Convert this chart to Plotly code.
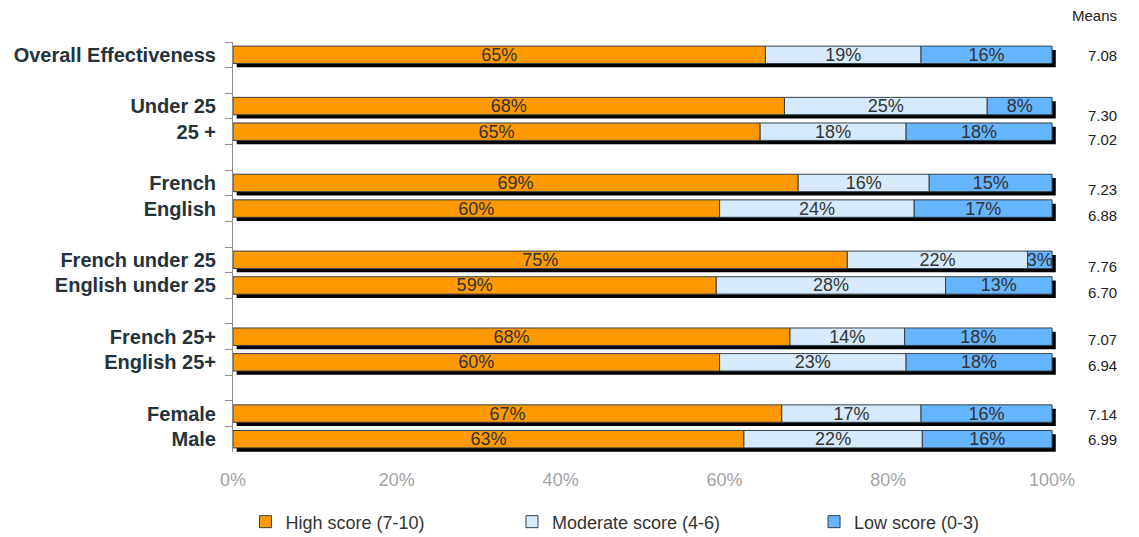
import plotly.graph_objects as go

# Row labels (top to bottom) and the slot layout with blank spacer slots between groups
ROWS = ["Overall Effectiveness", "Under 25", "25 +", "French", "English",
        "French under 25", "English under 25", "French 25+", "English 25+",
        "Female", "Male"]
SLOTS = ["Overall Effectiveness", " ",
         "Under 25", "25 +", "  ",
         "French", "English", "   ",
         "French under 25", "English under 25", "    ",
         "French 25+", "English 25+", "     ",
         "Female", "Male"]

HIGH = [65, 68, 65, 69, 60, 75, 59, 68, 60, 67, 63]
MODERATE = [19, 25, 18, 16, 24, 22, 28, 14, 23, 17, 22]
LOW = [16, 8, 18, 15, 17, 3, 13, 18, 18, 16, 16]
MEANS = ["7.08", "7.30", "7.02", "7.23", "6.88", "7.76", "6.70", "7.07", "6.94", "7.14", "6.99"]

SERIES_NAMES = ["High score (7-10)", "Moderate score (4-6)", "Low score (0-3)"]
X_TICKS = [0, 20, 40, 60, 80, 100]

# styling
COLORS = ["#FF9900", "#D6EAFC", "#66B5FF"]
OUTLINE = "#34404a"
FONT = "Liberation Sans, Arial, sans-serif"
BAR_W = 0.68
SHADOW_DX = 0.45     # horizontal drop-shadow offset (x units)
SHADOW_DY = 0.15     # vertical drop-shadow offset (category units)
MEAN_NUDGE_PX = [1, 9, 8, 7, 7, 7, 7, 3, 3, 1, 0]
MEANS_X = 1.075
LEGEND_X = [0.2155, 0.4495, 0.7147]   # container fractions

series = [HIGH, MODERATE, LOW]
totals = [sum(v) for v in zip(*series)]
pct = [[v / t * 100 for v, t in zip(s, totals)] for s in series]

fig = go.Figure()

# drop shadow under each stacked bar
fig.add_trace(go.Bar(
    y=ROWS, x=[100] * len(ROWS), base=[SHADOW_DX] * len(ROWS),
    orientation="h", width=BAR_W, offset=-BAR_W / 2 + SHADOW_DY,
    marker=dict(color="black", line=dict(width=0)),
    showlegend=False, hoverinfo="skip",
))

start = [0.0] * len(ROWS)
for i, (name, vals, p, col) in enumerate(zip(SERIES_NAMES, series, pct, COLORS)):
    fig.add_trace(go.Bar(
        y=ROWS, x=p, base=list(start), orientation="h", width=BAR_W,
        name=name, legend="legend" if i == 0 else f"legend{i + 1}",
        marker=dict(color=col, line=dict(color=OUTLINE, width=1)),
        text=[f"{v}%" for v in vals], textposition="inside",
        insidetextanchor="middle", constraintext="none",
        textfont=dict(family=FONT, size=18, color="#333333"),
        hoverinfo="skip",
    ))
    start = [s + v for s, v in zip(start, p)]

# "Means" column
fig.add_annotation(text="Means", xref="paper", yref="paper", x=MEANS_X, y=1.0,
                   yanchor="middle", yshift=27, showarrow=False,
                   font=dict(family=FONT, size=15, color="#222222"))
for row, m, dy in zip(ROWS, MEANS, MEAN_NUDGE_PX):
    fig.add_annotation(text=m, xref="paper", yref="y", x=MEANS_X, y=row,
                       yshift=-dy, showarrow=False,
                       font=dict(family=FONT, size=15, color="#222222"))

legend_style = dict(orientation="h", xref="container", yref="container",
                    yanchor="middle", y=0.028, xanchor="left",
                    bgcolor="rgba(0,0,0,0)",
                    font=dict(family=FONT, size=18, color="#333333"))

fig.update_layout(
    width=1139, height=537,
    margin=dict(l=233, r=82, t=42, b=85, autoexpand=False),
    paper_bgcolor="white", plot_bgcolor="white",
    barmode="overlay", hovermode=False,
    legend=dict(x=LEGEND_X[0], **legend_style),
    legend2=dict(x=LEGEND_X[1], **legend_style),
    legend3=dict(x=LEGEND_X[2], **legend_style),
    xaxis=dict(range=[0, 100.6], tickvals=X_TICKS,
               ticktext=[f"{t}%" for t in X_TICKS],
               showgrid=False, zeroline=False, showline=False,
               ticks="", ticklabelstandoff=15, automargin=False,
               tickfont=dict(family=FONT, size=18, color="#A3A3A3")),
    yaxis=dict(type="category", categoryorder="array", categoryarray=SLOTS,
               range=[len(SLOTS) - 0.5, -0.5], tickson="boundaries",
               showgrid=False, zeroline=False, showline=True,
               linecolor="#8c8c8c", linewidth=1,
               ticks="outside", ticklen=7, tickcolor="#8c8c8c",
               ticklabelstandoff=12, automargin=False,
               tickfont=dict(family=FONT, size=20, color="#25323a",
                             weight="bold")),
)

fig.write_html("out.html")
